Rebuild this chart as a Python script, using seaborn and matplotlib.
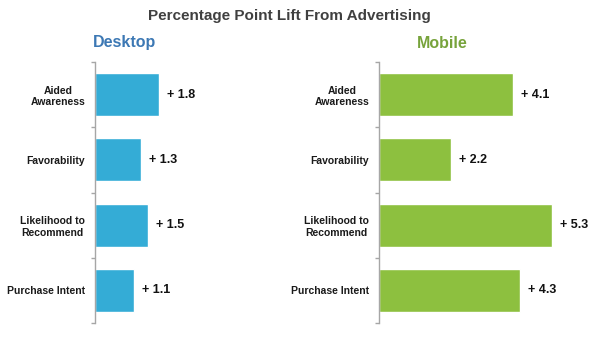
import matplotlib
matplotlib.use("Agg")
import matplotlib.pyplot as plt
import seaborn as sns
import pandas as pd
import numpy as np

categories = ["Aided\nAwareness", "Favorability", "Likelihood to\nRecommend", "Purchase Intent"]
desktop_values = [1.8, 1.3, 1.5, 1.1]
mobile_values = [4.1, 2.2, 5.3, 4.3]

sns.set_theme(style="white")
plt.rcParams['font.family'] = ['Liberation Sans', 'DejaVu Sans']

W, H = 600, 337
fig = plt.figure(figsize=(6, 3.37), dpi=100)

def px_axes(left, top, width, height):
    return fig.add_axes([left / W, 1 - (top + height) / H, width / W, height / H])

panels = [
    ("Desktop", desktop_values, "#34acd6", "#3c78b4", 95, 170, 35.5, 125),
    ("Mobile", mobile_values, "#8dc03f", "#77a33b", 379, 200, 32.7, 442),
]

for title, vals, barcol, titlecol, left, width, scale, tx in panels:
    ax = px_axes(left, 62, width, 261)
    df = pd.DataFrame({"cat": categories, "val": vals})
    sns.barplot(data=df, y="cat", x="val", orient="h", color=barcol,
                width=0.66, saturation=1, ax=ax)
    ax.set_xlim(0, width / scale)
    ax.set_ylim(3.5, -0.5)
    ax.set_xlabel("")
    ax.set_ylabel("")
    ax.set_xticks([])
    for s in ["top", "right", "bottom"]:
        ax.spines[s].set_visible(False)
    ax.spines["left"].set_color("#a6a6a6")
    ax.spines["left"].set_linewidth(1)
    ax.set_yticks(np.arange(len(categories)))
    ax.set_yticklabels(categories, fontsize=7.5, fontweight="bold", color="#1a1a1a",
                       ha="right", multialignment="center")
    ax.tick_params(axis="y", which="major", length=0, pad=7)
    ax.set_yticks(np.arange(-0.5, len(categories)), minor=True)
    ax.tick_params(axis="y", which="minor", length=3, color="#a6a6a6", width=1, left=True)
    for i, v in enumerate(vals):
        ax.text(v + 8 / scale, i, f"+ {v}", va="center", ha="left",
                fontsize=9, fontweight="bold", color="#111111")
    fig.text(tx / W, 1 - 43 / H, title, ha="center", va="center",
             fontsize=11.5, fontweight="bold", color=titlecol)

fig.text(289 / W, 1 - 16 / H, "Percentage Point Lift From Advertising", ha="center", va="center",
         fontsize=11, fontweight="bold", color="#404040")

fig.savefig("out.png", dpi=100, facecolor="white")
